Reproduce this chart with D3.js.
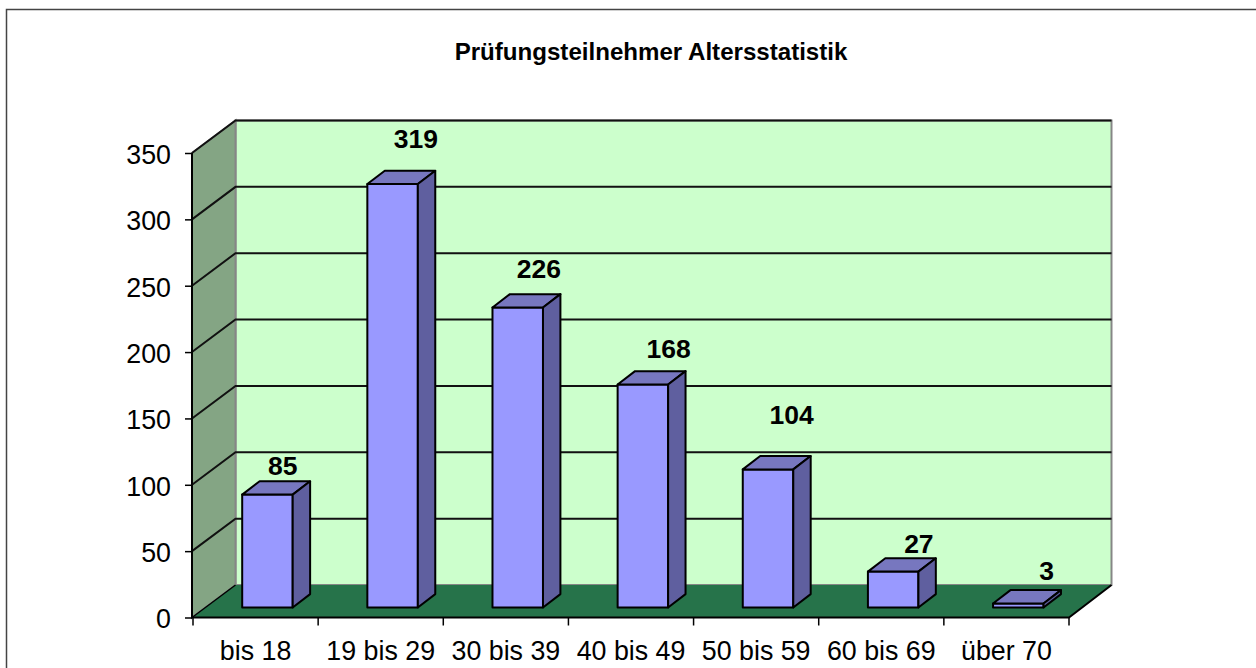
<!DOCTYPE html>
<html>
<head>
<meta charset="utf-8">
<script src="https://cdn.jsdelivr.net/npm/d3@7"></script>
<style>
    html, body { margin: 0; padding: 0; background: #fff; overflow: hidden; }
    text { font-family: "Liberation Sans", Arial, sans-serif; fill: #000; }
</style>
</head>
<body>
<div id="chart"></div>
<script>
const categories = ['bis 18', '19 bis 29', '30 bis 39', '40 bis 49', '50 bis 59', '60 bis 69', 'über 70'];
const values = [85, 319, 226, 168, 104, 27, 3];
const yTicks = [0, 50, 100, 150, 200, 250, 300, 350];
const chartTitle = 'Prüfungsteilnehmer Altersstatistik';

const width = 1256, height = 668;

const svg = d3.select('#chart')
    .append('svg')
    .attr('width', width)
    .attr('height', height);

// Scales on the front plane of the 3D box
const xScale = d3.scaleBand().domain(categories).range([193, 1069]);
const yScale = d3.scaleLinear().domain([0, 350]).range([617.5, 153]);

// Depth offset of the back wall, z goes 0 (front) to 1 (back)
const depthX = 42.5, depthY = -32.5;
const project = (x, y, z) => [x + depthX * z, y + depthY * z];
const poly = pts => 'M' + pts.map(p => p.join(',')).join('L') + 'Z';
const lineOf = pts => 'M' + pts.map(p => p.join(',')).join('L');

const xLeft = xScale.range()[0], xRight = xScale.range()[1];
const y0 = yScale(0), yTop = yScale(350);

// Outer frame, only top and left are in the picture
svg.append('path')
    .attr('d', `M6.5,${height}V9.5H${width}`)
    .attr('fill', 'none')
    .attr('stroke', '#444')
    .attr('stroke-width', 1.5);

svg.append('text')
    .attr('x', 651)
    .attr('y', 60)
    .attr('text-anchor', 'middle')
    .style('font-size', '24.1px')
    .style('font-weight', 'bold')
    .text(chartTitle);

// Back wall
svg.append('path')
    .attr('d', poly([project(xLeft, yTop, 1), project(xRight, yTop, 1), project(xRight, y0, 1), project(xLeft, y0, 1)]))
    .attr('fill', '#ccffcc')
    .attr('stroke', '#868686')
    .attr('stroke-width', 2);

// Left wall
svg.append('path')
    .attr('d', poly([[xLeft - 1, yTop], project(xLeft, yTop, 1), project(xLeft, y0, 1), [xLeft - 1, y0]]))
    .attr('fill', '#84a584')
    .attr('stroke', '#868686')
    .attr('stroke-width', 2);

// Floor
svg.append('path')
    .attr('d', poly([[xLeft - 1, y0], project(xLeft, y0, 1), project(xRight, y0, 1), [xRight, y0]]))
    .attr('fill', '#26734a');

// Gridlines, running along the left wall and then the back wall
svg.append('g')
    .selectAll('path')
    .data(yTicks.slice(1))
    .join('path')
    .attr('d', d => lineOf([[xLeft - 1, yScale(d)], project(xLeft, yScale(d), 1), project(xRight, yScale(d), 1)]))
    .attr('fill', 'none')
    .attr('stroke', '#111')
    .attr('stroke-width', 2);

// Black edges of the box
svg.append('path')
    .attr('d', lineOf([[xLeft - 1, yTop], [xLeft - 1, y0], [xRight, y0], project(xRight, y0, 1)]))
    .attr('fill', 'none')
    .attr('stroke', '#000')
    .attr('stroke-width', 2);
svg.append('path')
    .attr('d', lineOf([[xLeft - 1, y0], project(xLeft, y0, 1)]))
    .attr('fill', 'none')
    .attr('stroke', '#000')
    .attr('stroke-width', 1.5);

// Bars: front face, top face, side face
const barZ0 = 0.31, barZ1 = 0.72, barWidth = 50.5, barShift = -1.3;
const barHeight = d => y0 - yScale(d);
const bars = svg.append('g')
    .selectAll('g')
    .data(categories.map((c, i) => ({ category: c, value: values[i] })))
    .join('g')
    .attr('stroke', '#000')
    .attr('stroke-width', 2)
    .attr('stroke-linejoin', 'round');

const barX = d => xScale(d.category) + xScale.bandwidth() / 2 - barWidth / 2 + barShift;

bars.append('path')
    .attr('fill', '#9999ff')
    .attr('d', d => {
        const x = barX(d), t = y0 - barHeight(d.value);
        return poly([project(x, t, barZ0), project(x + barWidth, t, barZ0), project(x + barWidth, y0, barZ0), project(x, y0, barZ0)]);
    });
bars.append('path')
    .attr('fill', '#7777bf')
    .attr('d', d => {
        const x = barX(d), t = y0 - barHeight(d.value);
        return poly([project(x, t, barZ0), project(x + barWidth, t, barZ0), project(x + barWidth, t, barZ1), project(x, t, barZ1)]);
    });
bars.append('path')
    .attr('fill', '#5f5f9f')
    .attr('d', d => {
        const x = barX(d) + barWidth, t = y0 - barHeight(d.value);
        return poly([project(x, t, barZ0), project(x, t, barZ1), project(x, y0, barZ1), project(x, y0, barZ0)]);
    });

// Hand-placed labels in the original, so nudges from the bar's back top edge
const labelNudge = [[6.5, -16], [14.5, -32], [12.5, -26], [17, -23], [15, -42], [17, -15], [19.5, -20]];
bars.append('text')
    .attr('x', (d, i) => project(barX(d) + barWidth / 2, 0, (barZ0 + barZ1) / 2)[0] + labelNudge[i][0])
    .attr('y', (d, i) => project(0, y0 - barHeight(d.value), barZ1)[1] + labelNudge[i][1])
    .attr('dy', '0.36em')
    .attr('text-anchor', 'middle')
    .attr('stroke', 'none')
    .style('font-size', '26.5px')
    .style('font-weight', 'bold')
    .text(d => d.value);

// Y axis
const yAxis = svg.append('g')
    .attr('transform', `translate(${xLeft - 1},0)`)
    .call(d3.axisLeft(yScale).tickValues(yTicks).tickSize(7).tickPadding(14));
yAxis.select('.domain').remove();
yAxis.selectAll('line').attr('stroke', '#000').attr('stroke-width', 1.5);
yAxis.selectAll('text')
    .attr('dy', '0.39em')
    .style('font-size', '26.8px')
    .style('font-family', '"Liberation Sans", Arial, sans-serif');

// X axis: labels sit in the band centres, ticks on the band edges
const xAxis = svg.append('g')
    .attr('transform', `translate(0,${y0})`)
    .call(d3.axisBottom(xScale).tickSize(0).tickPadding(23));
xAxis.select('.domain').remove();
xAxis.selectAll('text')
    .style('font-size', '26.8px')
    .style('font-family', '"Liberation Sans", Arial, sans-serif');

svg.append('g')
    .selectAll('line')
    .data(categories.map(c => xScale(c)).concat(xRight))
    .join('line')
    .attr('x1', d => d)
    .attr('x2', d => d)
    .attr('y1', y0)
    .attr('y2', y0 + 8)
    .attr('stroke', '#000')
    .attr('stroke-width', 1.5);
</script>
</body>
</html>
